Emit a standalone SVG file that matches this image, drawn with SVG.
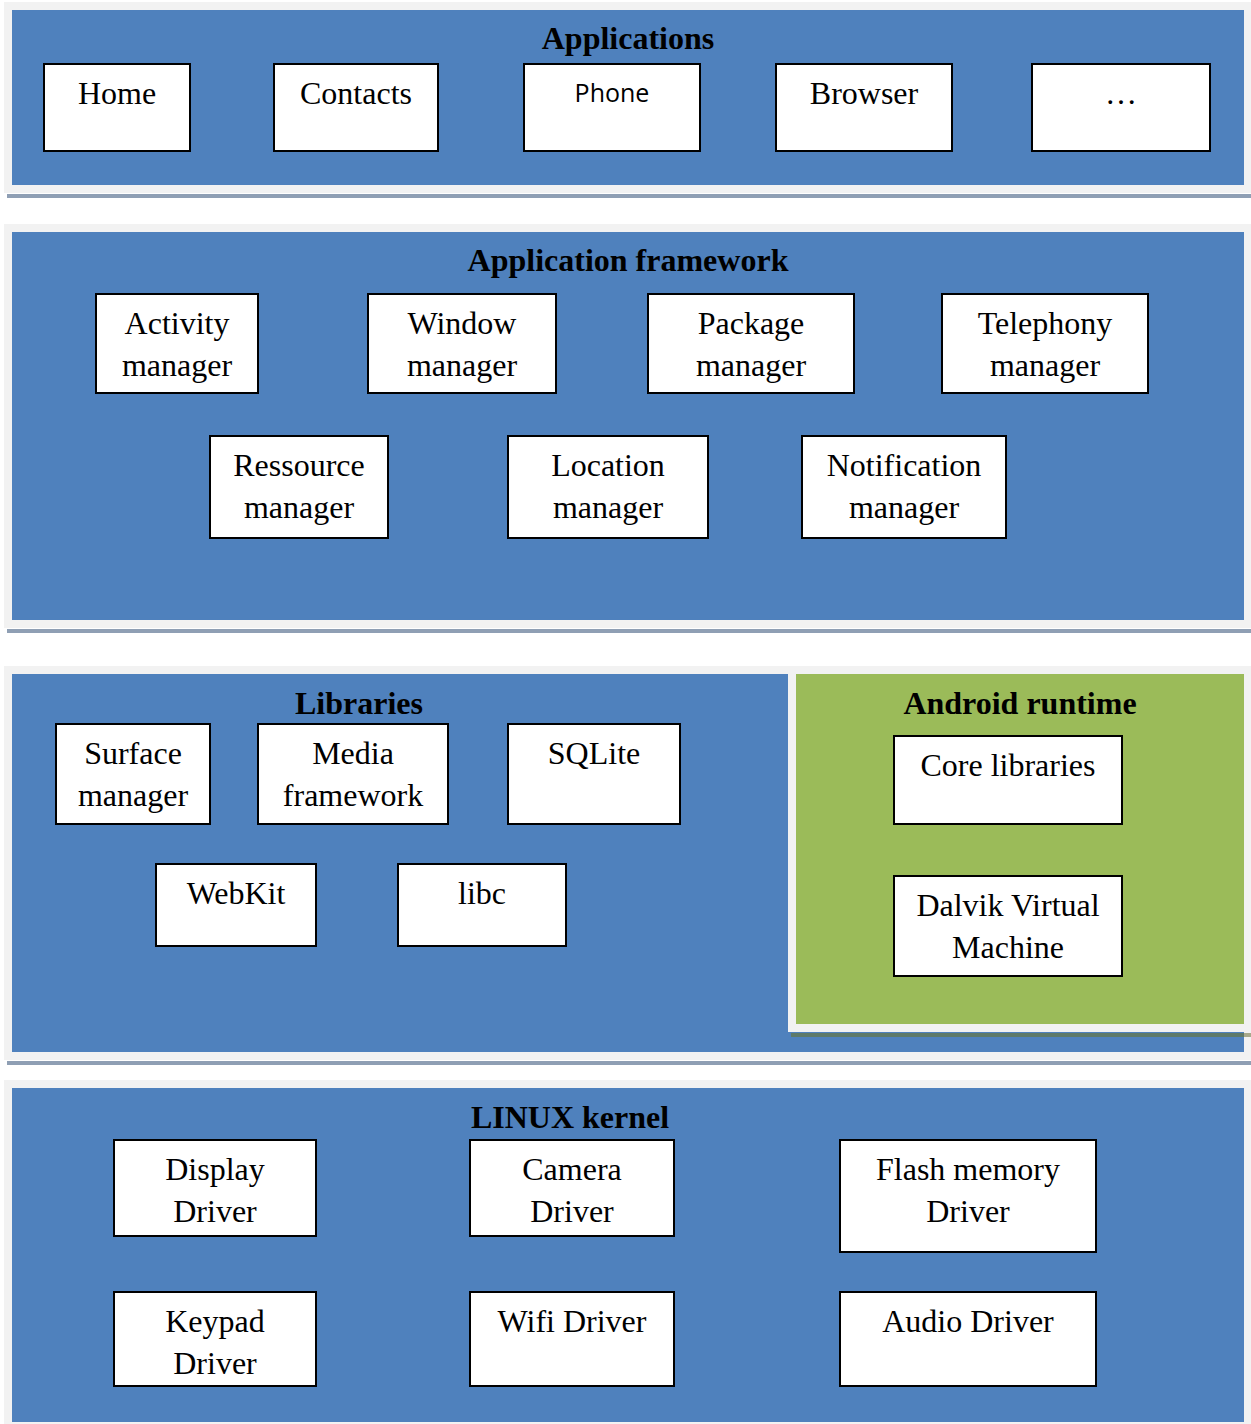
<svg xmlns="http://www.w3.org/2000/svg" width="1251" height="1424" viewBox="0 0 1251 1424">
<style>
.frame{fill:#f2f2f2}
.blue{fill:#4f81bd}
.green{fill:#9bbb59}
.shadow{fill:#8f9fb4}
.box{fill:#ffffff;stroke:#000000;stroke-width:2}
.t{font-family:"Liberation Serif","Times New Roman",serif;font-size:32px;fill:#000;text-anchor:middle}
.h{font-family:"Liberation Serif","Times New Roman",serif;font-size:32px;font-weight:bold;fill:#000;text-anchor:middle}
.s{font-family:"Open Sans","Liberation Sans",sans-serif;font-size:25px;fill:#000;text-anchor:middle}
</style>
<rect width="1251" height="1424" fill="#ffffff"/>

<g id="layer-applications">
<rect class="frame" x="4" y="2" width="1247" height="191"/>
<rect class="blue" x="12" y="10" width="1232" height="175"/>
<rect class="shadow" x="7" y="194" width="1244" height="4"/>
<text class="h" x="628" y="49">Applications</text>
</g>
<g id="layer-framework">
<rect class="frame" x="4" y="224" width="1247" height="404"/>
<rect class="blue" x="12" y="232" width="1232" height="388"/>
<rect class="shadow" x="7" y="629" width="1244" height="4"/>
<text class="h" x="628" y="271">Application framework</text>
</g>
<g id="layer-libraries">
<rect class="frame" x="4" y="666" width="1247" height="394"/>
<rect class="blue" x="12" y="674" width="1232" height="378"/>
<rect class="shadow" x="7" y="1061" width="1244" height="4"/>
<text class="h" x="359" y="714">Libraries</text>
</g>
<g id="layer-runtime">
<rect class="frame" x="788" y="666" width="463" height="366"/>
<rect class="green" x="796" y="674" width="448" height="350"/>
<rect x="791" y="1033" width="453" height="4" fill="#5e7a6a"/>
<rect x="1244" y="1033" width="7" height="4" fill="#a7a98c"/>
<text class="h" x="1020" y="714">Android runtime</text>
</g>
<g id="layer-kernel">
<rect class="frame" x="4" y="1080" width="1247" height="344"/>
<rect class="blue" x="12" y="1088" width="1232" height="334"/>
<text class="h" x="570" y="1128">LINUX kernel</text>
</g>

<g id="home"><rect class="box" x="44" y="64" width="146" height="87"/><text class="t" x="117" y="104">Home</text></g>
<g id="contacts"><rect class="box" x="274" y="64" width="164" height="87"/><text class="t" x="356" y="104">Contacts</text></g>
<g id="phone"><rect class="box" x="524" y="64" width="176" height="87"/><text class="s" x="612" y="102">Phone</text></g>
<g id="browser"><rect class="box" x="776" y="64" width="176" height="87"/><text class="t" x="864" y="104">Browser</text></g>
<g id="more"><rect class="box" x="1032" y="64" width="178" height="87"/><text class="t" x="1121" y="104">…</text></g>

<g id="activity-manager"><rect class="box" x="96" y="294" width="162" height="99"/><text class="t" x="177" y="334">Activity</text><text class="t" x="177" y="376">manager</text></g>
<g id="window-manager"><rect class="box" x="368" y="294" width="188" height="99"/><text class="t" x="462" y="334">Window</text><text class="t" x="462" y="376">manager</text></g>
<g id="package-manager"><rect class="box" x="648" y="294" width="206" height="99"/><text class="t" x="751" y="334">Package</text><text class="t" x="751" y="376">manager</text></g>
<g id="telephony-manager"><rect class="box" x="942" y="294" width="206" height="99"/><text class="t" x="1045" y="334">Telephony</text><text class="t" x="1045" y="376">manager</text></g>
<g id="ressource-manager"><rect class="box" x="210" y="436" width="178" height="102"/><text class="t" x="299" y="476">Ressource</text><text class="t" x="299" y="518">manager</text></g>
<g id="location-manager"><rect class="box" x="508" y="436" width="200" height="102"/><text class="t" x="608" y="476">Location</text><text class="t" x="608" y="518">manager</text></g>
<g id="notification-manager"><rect class="box" x="802" y="436" width="204" height="102"/><text class="t" x="904" y="476">Notification</text><text class="t" x="904" y="518">manager</text></g>

<g id="surface-manager"><rect class="box" x="56" y="724" width="154" height="100"/><text class="t" x="133" y="764">Surface</text><text class="t" x="133" y="806">manager</text></g>
<g id="media-framework"><rect class="box" x="258" y="724" width="190" height="100"/><text class="t" x="353" y="764">Media</text><text class="t" x="353" y="806">framework</text></g>
<g id="sqlite"><rect class="box" x="508" y="724" width="172" height="100"/><text class="t" x="594" y="764">SQLite</text></g>
<g id="webkit"><rect class="box" x="156" y="864" width="160" height="82"/><text class="t" x="236" y="904">WebKit</text></g>
<g id="libc"><rect class="box" x="398" y="864" width="168" height="82"/><text class="t" x="482" y="904">libc</text></g>

<g id="core-libraries"><rect class="box" x="894" y="736" width="228" height="88"/><text class="t" x="1008" y="776">Core libraries</text></g>
<g id="dalvik"><rect class="box" x="894" y="876" width="228" height="100"/><text class="t" x="1008" y="916">Dalvik Virtual</text><text class="t" x="1008" y="958">Machine</text></g>

<g id="display-driver"><rect class="box" x="114" y="1140" width="202" height="96"/><text class="t" x="215" y="1180">Display</text><text class="t" x="215" y="1222">Driver</text></g>
<g id="camera-driver"><rect class="box" x="470" y="1140" width="204" height="96"/><text class="t" x="572" y="1180">Camera</text><text class="t" x="572" y="1222">Driver</text></g>
<g id="flash-driver"><rect class="box" x="840" y="1140" width="256" height="112"/><text class="t" x="968" y="1180">Flash memory</text><text class="t" x="968" y="1222">Driver</text></g>
<g id="keypad-driver"><rect class="box" x="114" y="1292" width="202" height="94"/><text class="t" x="215" y="1332">Keypad</text><text class="t" x="215" y="1374">Driver</text></g>
<g id="wifi-driver"><rect class="box" x="470" y="1292" width="204" height="94"/><text class="t" x="572" y="1332">Wifi Driver</text></g>
<g id="audio-driver"><rect class="box" x="840" y="1292" width="256" height="94"/><text class="t" x="968" y="1332">Audio Driver</text></g>

<g id="connectors"></g>
</svg>
